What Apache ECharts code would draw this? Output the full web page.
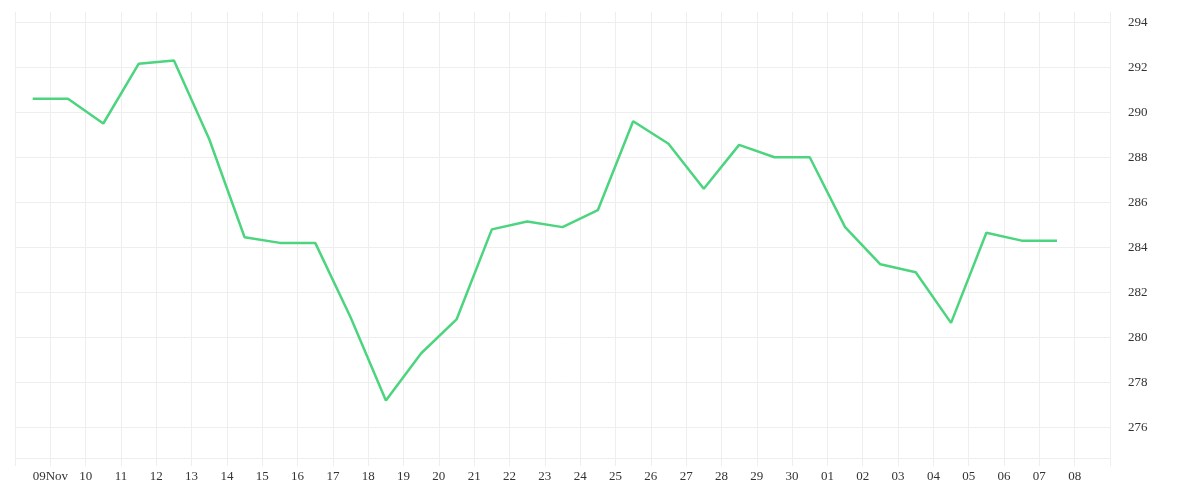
<!DOCTYPE html>
<html><head><meta charset="utf-8">
<script src="https://cdn.jsdelivr.net/npm/echarts@6/dist/echarts.min.js"></script>
<style>html,body{margin:0;padding:0;background:#fff}#c{width:1200px;height:500px}</style>
</head><body><div id="c"></div>
<script>
var tickLabels = ['09Nov','10','11','12','13','14','15','16','17','18','19','20','21','22','23','24','25','26','27','28','29','30','01','02','03','04','05','06','07','08'];
var yTicks = [276,278,280,282,284,286,288,290,292,294];
var pointPos = [-0.5,0.5,1.5,2.5,3.5,4.5,5.5,6.5,7.5,8.5,9.5,10.5,11.5,12.5,13.5,14.5,15.5,16.5,17.5,18.5,19.5,20.5,21.5,22.5,23.5,24.5,25.5,26.5,27.5,28.5];
var values = [290.6,290.6,289.5,292.15,292.3,288.8,284.45,284.2,284.2,280.9,277.2,279.3,280.8,284.8,285.15,284.9,285.65,289.6,288.6,286.6,288.55,288.0,288.0,284.9,283.25,282.9,280.65,284.65,284.3,284.3];
var chart = echarts.init(document.getElementById('c'));
var font = 'Liberation Serif';
chart.setOption({
  animation:false,
  grid:{left:15,right:90,top:12,bottom:42},
  xAxis:{type:'value',min:-1,max:30,interval:1,
    axisLine:{show:true,lineStyle:{color:'#eeeeee'}},
    axisTick:{show:true,length:8,lineStyle:{color:'#eeeeee'}},
    splitLine:{show:true,lineStyle:{color:'#eeeeee'}},
    axisLabel:{fontFamily:font,fontSize:13,color:'#333',margin:12,
      formatter:function(v){var i=Math.round(v);return (i>=0&&i<tickLabels.length)?tickLabels[i]:'';}}
  },
  yAxis:{type:'value',position:'right',min:274.65,max:294.45,
    axisLine:{show:false},
    axisTick:{show:false,customValues:yTicks},
    splitLine:{show:true,lineStyle:{color:'#eeeeee'}},
    axisLabel:{fontFamily:font,fontSize:13,color:'#333',margin:18,customValues:yTicks,
      formatter:function(v){return String(Math.round(v));}}
  },
  series:[{type:'line',data:pointPos.map(function(x,i){return [x,values[i]];}),
    showSymbol:false,lineStyle:{color:'#4cd47f',width:2.5},itemStyle:{color:'#4cd47f'}}]
});
</script></body></html>
